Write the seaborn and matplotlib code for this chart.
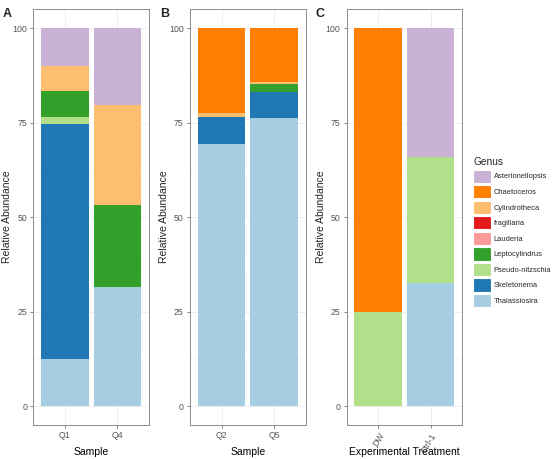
import seaborn as sns
import matplotlib.pyplot as plt
import pandas as pd
from matplotlib.patches import Patch

# genus order = legend order (top of stack first)
genera = ["Asterionellopsis", "Chaetoceros", "Cylindrotheca", "fragillaria",
          "Lauderia", "Leptocylindrus", "Pseudo-nitzschia", "Skeletonema",
          "Thalassiosira"]
colors = ["#CAB2D6", "#FF7F00", "#FDBF6F", "#E31A1C", "#FB9A99",
          "#33A02C", "#B2DF8A", "#1F78B4", "#A6CEE3"]

# relative abundance (%) per sample, in genus order
q1 = [10.0, 0.0, 6.7, 0.0, 0.0, 6.7, 1.9, 62.2, 12.5]
q4 = [20.4, 0.0, 26.4, 0.0, 0.0, 21.8, 0.0, 0.0, 31.4]
q2 = [0.0, 22.5, 0.9, 0.0, 0.0, 0.0, 0.0, 7.2, 69.4]
q5 = [0.0, 14.3, 0.5, 0.0, 0.0, 2.0, 0.0, 7.0, 76.2]
dw = [0.0, 75.0, 0.0, 0.0, 0.0, 0.0, 25.0, 0.0, 0.0]
ctrl1 = [34.2, 0.0, 0.0, 0.0, 0.0, 0.0, 33.1, 0.0, 32.7]

panels = [
    ("A", ["Q1", "Q4"], [q1, q4], "Sample"),
    ("B", ["Q2", "Q5"], [q2, q5], "Sample"),
    ("C", ["DW", "Ctrl-1"], [dw, ctrl1], "Experimental Treatment"),
]

sns.set_theme(style="white")
plt.rcParams["font.family"] = ["Liberation Sans", "DejaVu Sans"]

fig = plt.figure(figsize=(5.58, 4.59), dpi=100)
lefts = [0.060, 0.3405, 0.621]
bottom, height, width = 0.074, 0.906, 0.207
ylab_x = [7, 164, 321]
letter_x = [3, 160, 316]

for i, (letter, samples, values, xlab) in enumerate(panels):
    ax = fig.add_axes([lefts[i], bottom, width, height])

    rows = []
    for s, vals in zip(samples, values):
        for g, v in zip(genera, vals):
            rows.append({"Sample": s, "Genus": g, "Abundance": v})
    df = pd.DataFrame(rows)
    # cumulative from bottom of stack (last genus) upwards
    df["cum"] = df.iloc[::-1].groupby("Sample")["Abundance"].cumsum()

    # draw tallest cumulative first, then overlay lower ones
    for g, c in zip(genera, colors):
        sub = df[df["Genus"] == g]
        sns.barplot(data=sub, x="Sample", y="cum", order=samples, color=c,
                    saturation=1, width=0.9, errorbar=None, linewidth=0,
                    ax=ax, zorder=2)

    ax.set_xlim(-0.6, 1.6)
    ax.set_ylim(-5, 105)
    ax.set_yticks([0, 25, 50, 75, 100])
    ax.set_yticks([12.5, 37.5, 62.5, 87.5], minor=True)
    ax.grid(True, which="major", color="#EBEBEB", lw=0.6, zorder=0)
    ax.grid(True, which="minor", axis="y", color="#F2F2F2", lw=0.35, zorder=0)
    ax.set_axisbelow(True)
    for sp in ax.spines.values():
        sp.set_color("#8C8C8C")
        sp.set_linewidth(0.7)
    ax.tick_params(axis="both", which="major", length=2.5, width=0.5,
                   color="#555555", labelcolor="#555555", labelsize=6.3,
                   pad=2, left=True, bottom=True)
    ax.tick_params(which="minor", length=0)

    if letter == "C":
        ax.tick_params(axis="x", labelrotation=60)
        plt.setp(ax.get_xticklabels(), ha="right", rotation_mode="anchor")
    else:
        ax.tick_params(axis="x", labelrotation=0)
        plt.setp(ax.get_xticklabels(), ha="center", rotation_mode="default")

    ax.set_xlabel("")
    ax.set_ylabel("")
    cx = (lefts[i] + width / 2)
    fig.text(cx, 1 - 452 / 459, xlab, ha="center", va="center", fontsize=7.5,
             color="black")
    fig.text(ylab_x[i] / 558, bottom + height / 2, "Relative Abundance",
             rotation=90, ha="center", va="center", fontsize=7.5)
    fig.text(letter_x[i] / 558, 1 - 14 / 459, letter, fontsize=9,
             fontweight="bold", ha="left", va="center")

handles = [Patch(facecolor=c, edgecolor="white", linewidth=0.8) for c in colors]
leg = fig.legend(handles, genera, title="Genus", loc="upper left",
                 bbox_to_anchor=(468 / 558, 1 - 152 / 459), frameon=False,
                 fontsize=5.4, title_fontsize=7.3, handlelength=2.4,
                 handleheight=2.35, labelspacing=0.3, handletextpad=0.35,
                 borderpad=0.2)
leg._legend_box.align = "left"

fig.savefig("out.png", dpi=100)
